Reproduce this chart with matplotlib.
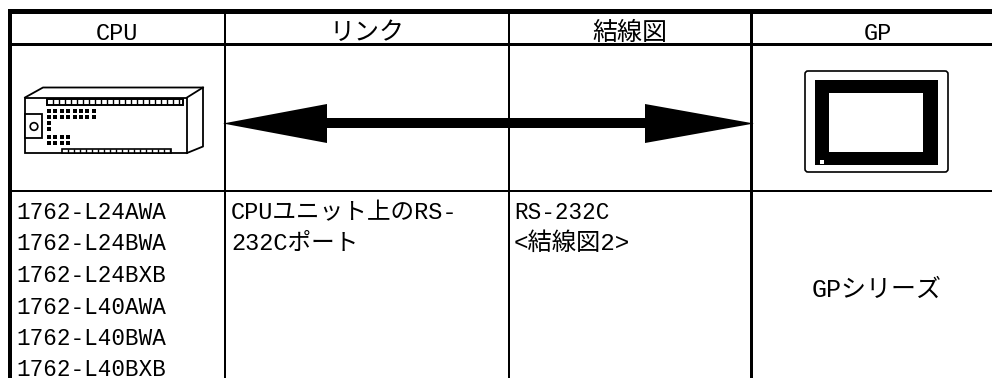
import numpy as np
import matplotlib
matplotlib.use("Agg")
import matplotlib.pyplot as plt
from matplotlib.patches import Polygon, Rectangle, FancyBboxPatch

FONT = ['Liberation Mono', 'Noto Sans CJK JP']
plt.rcParams['font.family'] = FONT

headers = ["CPU", "リンク", "結線図", "GP"]
header_x = [116.5, 367, 630, 878]
header_size = [17, 18, 18, 17]
cpu_models = ["1762-L24AWA", "1762-L24BWA", "1762-L24BXB", "1762-L40AWA", "1762-L40BWA", "1762-L40BXB"]
model_y = [219, 250, 282, 313.5, 345, 376.5]
link_lines = ["CPUユニット上のRS-", "232Cポート"]
link_y = [219, 250]
wiring_lines = ["RS-232C", "<結線図2>"]
wiring_size = [16.3, 17.5]
gp_label = "GPシリーズ"

fig = plt.figure(figsize=(9.92, 3.78), dpi=100)
ax = fig.add_axes([0, 0, 1, 1])
ax.set_xlim(0, 992)
ax.set_ylim(378, 0)
ax.axis("off")

# table rules, widths in pixels
def rule(x0, y0, x1, y1):
    ax.add_patch(Rectangle((x0, y0), x1 - x0, y1 - y0, fc="black", ec="none"))

rule(8, 9, 992, 13.5)
rule(8, 43, 992, 45.5)
rule(8, 189.5, 992, 192)
rule(8, 9, 12, 378)
rule(223.5, 9, 225.7, 378)
rule(507.5, 9, 509.5, 378)
rule(750, 9, 752.8, 378)

# double arrow
ax.add_patch(Polygon([(223, 123.5), (327, 104), (327, 118), (645, 118), (645, 104), (754, 123.5),
                      (645, 143), (645, 128), (327, 128), (327, 143)], fc="black", ec="none"))

# PLC icon
ax.add_patch(Rectangle((25, 97.5), 162, 55.5, fc="white", ec="black", lw=1.3))
ax.plot([25, 43, 203, 203, 187], [97.5, 87.5, 87.5, 146.5, 153], color="black", lw=1.3)
ax.plot([187, 203], [97.5, 87.5], color="black", lw=1.3)
ax.add_patch(Rectangle((25, 114), 17, 24, fc="white", ec="black", lw=1.3))
ax.add_patch(plt.Circle((34, 126.5), 3.8, fc="white", ec="black", lw=1.2))

# connector strips
ax.add_patch(Rectangle((47, 99), 136, 5.5, fc="white", ec="black", lw=1.4))
ax.vlines(np.arange(53, 183, 6), 99, 104.5, color="black", lw=1)
ax.add_patch(Rectangle((62, 149), 109, 3.5, fc="white", ec="black", lw=1.2))
ax.vlines(np.arange(68, 171, 6), 149, 152.5, color="black", lw=1)

# LED dots
for yy, n in [(111, 8), (117, 8), (123, 1), (129, 1), (137, 4), (143, 4)]:
    xs = 49 + 6.4 * np.arange(n)
    ax.scatter(xs, [yy] * n, marker="s", s=9, color="black", lw=0)

# GP icon
ax.add_patch(FancyBboxPatch((805, 71), 143, 101, boxstyle="round,pad=0,rounding_size=3", fc="white", ec="black", lw=1.2))
ax.add_patch(Rectangle((815, 80), 123, 85, fc="black", ec="none"))
ax.add_patch(Rectangle((829, 93), 94, 59, fc="white", ec="none"))
ax.add_patch(Rectangle((820, 160), 3.5, 3.5, fc="white", ec="none"))

for t, x, s in zip(headers, header_x, header_size):
    ax.text(x, 40, t, ha="center", va="baseline", fontsize=s)
for t, y in zip(cpu_models, model_y):
    ax.text(16, y, t, ha="left", va="baseline", fontsize=16.3)
for t, y in zip(link_lines, link_y):
    ax.text(231, y, t, ha="left", va="baseline", fontsize=17)
for t, y, s in zip(wiring_lines, link_y, wiring_size):
    ax.text(514, y, t, ha="left", va="baseline", fontsize=s)
ax.text(877, 297, gp_label, ha="center", va="baseline", fontsize=18)

fig.savefig("out.png", dpi=100)
